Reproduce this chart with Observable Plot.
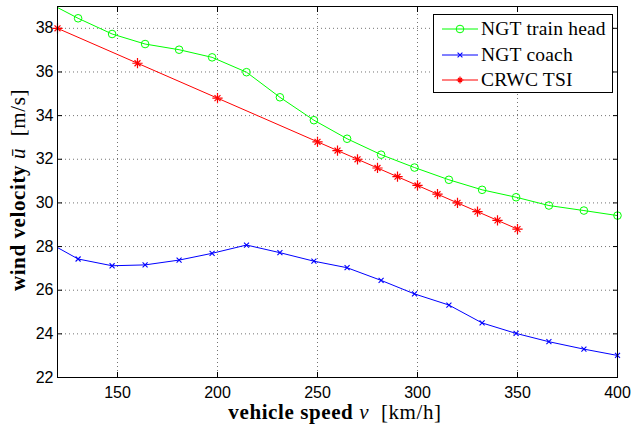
<!DOCTYPE html>
<html>
<head>
<meta charset="utf-8">
<script src="https://cdn.jsdelivr.net/npm/d3@7"></script>
<script src="https://cdn.jsdelivr.net/npm/@observablehq/plot@0.6"></script>
<style>
  html, body { margin: 0; padding: 0; background: #fff; }
  #chart { position: relative; width: 632px; height: 428px; }
  #chart svg { display: block; }
  .xlabel {
    position: absolute; left: 0; width: 632px; top: 402px; text-align: center;
    font-family: "Liberation Serif", serif; font-weight: bold; font-size: 21px; letter-spacing: 0.6px;
    padding-left: 38px; box-sizing: border-box; white-space: nowrap; line-height: 21px;
  }
  .ylabel {
    position: absolute; left: 18px; top: 190px; transform: translate(-50%, -50%) rotate(-90deg);
    font-family: "Liberation Serif", serif; font-weight: bold; font-size: 21px; letter-spacing: 0.6px;
    white-space: nowrap; line-height: 21px;
  }
  .unit { font-weight: normal; }
  .math { font-style: italic; font-weight: normal; }
  .legend {
    position: absolute; left: 433px; top: 14px; width: 178px; height: 77px;
    border: 1px solid #000; background: #fff;
    font-family: "Liberation Serif", serif; font-size: 19.5px; letter-spacing: 0.2px;
  }
  .legend .row { position: absolute; left: 0; height: 20px; display: flex; align-items: center; white-space: nowrap; }
  .legend svg { margin-left: 8px; margin-right: 3px; }
</style>
</head>
<body>
<div id="chart"></div>
<script>
// Vehicle speeds (km/h) at which the NGT curves were evaluated
const ngtSpeed = [113.8, 130.3, 147.3, 163.8, 180.8, 197.3, 214.5, 231.2, 248.2, 264.8, 281.8, 298.5, 315.7, 332.3, 349.3, 365.7, 383.2, 400];
// Characteristic wind velocity (m/s), NGT train head
const ngtHead = [39.25, 38.46, 37.74, 37.28, 37.02, 36.67, 35.99, 34.84, 33.79, 32.94, 32.21, 31.62, 31.06, 30.60, 30.26, 29.88, 29.65, 29.42];
// Characteristic wind velocity (m/s), NGT coach
const ngtCoach = [28.27, 27.43, 27.12, 27.16, 27.38, 27.69, 28.07, 27.72, 27.33, 27.03, 26.45, 25.83, 25.32, 24.50, 24.02, 23.64, 23.30, 23.01];
// CRWC from the TSI
const tsiSpeed = [120, 160, 200, 250, 260, 270, 280, 290, 300, 310, 320, 330, 340, 350];
const tsiWind = [38.0, 36.4, 34.8, 32.8, 32.4, 32.0, 31.6, 31.2, 30.8, 30.4, 30.0, 29.6, 29.2, 28.8];

const xTicks = [150, 200, 250, 300, 350, 400];
const yTicks = [22, 24, 26, 28, 30, 32, 34, 36, 38];

const seriesNames = ["NGT train head", "NGT coach", "CRWC TSI"];
const seriesColors = ["#00ff00", "#0000ff", "#ff0000"];

const head = ngtSpeed.map((s, i) => ({speed: s, wind: ngtHead[i]}));
const coach = ngtSpeed.map((s, i) => ({speed: s, wind: ngtCoach[i]}));
const tsi = tsiSpeed.map((s, i) => ({speed: s, wind: tsiWind[i]}));
const inView = d => d.speed >= 120 && d.speed <= 400;

const grid = {stroke: "#000", strokeOpacity: 0.55, strokeDasharray: "1,3"};

const chart = Plot.plot({
  width: 632,
  height: 428,
  marginLeft: 57,
  marginRight: 15,
  marginTop: 6,
  marginBottom: 51,
  style: {fontFamily: "'Liberation Sans', Arial, sans-serif", fontSize: "16px", color: "#000", background: "#fff"},
  x: {domain: [120, 400]},
  y: {domain: [22, 39]},
  marks: [
    Plot.gridX(xTicks.filter(t => t < 400), grid),
    Plot.gridY(yTicks.filter(t => t > 22), grid),
    // tick labels
    Plot.axisX(xTicks, {anchor: "bottom", tickSize: 0, tickPadding: 9, label: null}),
    Plot.axisY(yTicks, {anchor: "left", tickSize: 0, tickPadding: 4, label: null}),
    // inward tick marks on all four sides
    Plot.axisX(xTicks, {anchor: "bottom", tickSize: -5, fill: "none", label: null}),
    Plot.axisX(xTicks, {anchor: "top", tickSize: -5, fill: "none", label: null}),
    Plot.axisY(yTicks, {anchor: "left", tickSize: -5, fill: "none", label: null}),
    Plot.axisY(yTicks, {anchor: "right", tickSize: -5, fill: "none", label: null}),
    // curves
    Plot.line(head, {x: "speed", y: "wind", stroke: seriesColors[0], strokeWidth: 1, clip: true}),
    Plot.dot(head, {filter: inView, x: "speed", y: "wind", r: 3.8, stroke: seriesColors[0], strokeWidth: 1, fill: "none"}),
    Plot.line(coach, {x: "speed", y: "wind", stroke: seriesColors[1], strokeWidth: 1, clip: true}),
    Plot.dot(coach, {filter: inView, x: "speed", y: "wind", symbol: "times", r: 2.4, stroke: seriesColors[1], strokeWidth: 1.1}),
    Plot.line(tsi, {x: "speed", y: "wind", stroke: seriesColors[2], strokeWidth: 1, clip: true}),
    Plot.dot(tsi, {filter: inView, x: "speed", y: "wind", symbol: "plus", r: 3.4, stroke: seriesColors[2], strokeWidth: 1.2}),
    Plot.dot(tsi, {filter: inView, x: "speed", y: "wind", symbol: "times", r: 2.8, stroke: seriesColors[2], strokeWidth: 1.2}),
    Plot.frame({stroke: "#000", strokeWidth: 1})
  ]
});

const root = document.getElementById("chart");
root.appendChild(chart);

// axis titles with math-style variables
const xl = document.createElement("div");
xl.className = "xlabel";
xl.innerHTML = 'vehicle speed <span class="math">v</span>&nbsp; <span class="unit">[km/h]</span>';
root.appendChild(xl);

const yl = document.createElement("div");
yl.className = "ylabel";
yl.innerHTML = 'wind velocity <span class="math">\u016B</span>&nbsp; <span class="unit">[m/s]</span>';
root.appendChild(yl);

// legend
const legend = document.createElement("div");
legend.className = "legend";
const markerSvg = [
  c => `<circle cx="18" cy="10" r="3.8" fill="none" stroke="${c}"/>`,
  c => `<path d="M15.6,7.6L20.4,12.4M15.6,12.4L20.4,7.6" stroke="${c}" stroke-width="1.1"/>`,
  c => `<path d="M18,6.6V13.4M14.6,10H21.4M16,8L20,12M16,12L20,8" stroke="${c}" stroke-width="1.2"/>`
];
seriesNames.forEach((name, i) => {
  const row = document.createElement("div");
  row.className = "row";
  row.style.top = (4 + i * 25.5) + "px";
  row.innerHTML = `<svg width="36" height="20"><line x1="0" x2="36" y1="10" y2="10" stroke="${seriesColors[i]}"/>${markerSvg[i](seriesColors[i])}</svg><span>${name}</span>`;
  legend.appendChild(row);
});
root.appendChild(legend);
</script>
</body>
</html>
